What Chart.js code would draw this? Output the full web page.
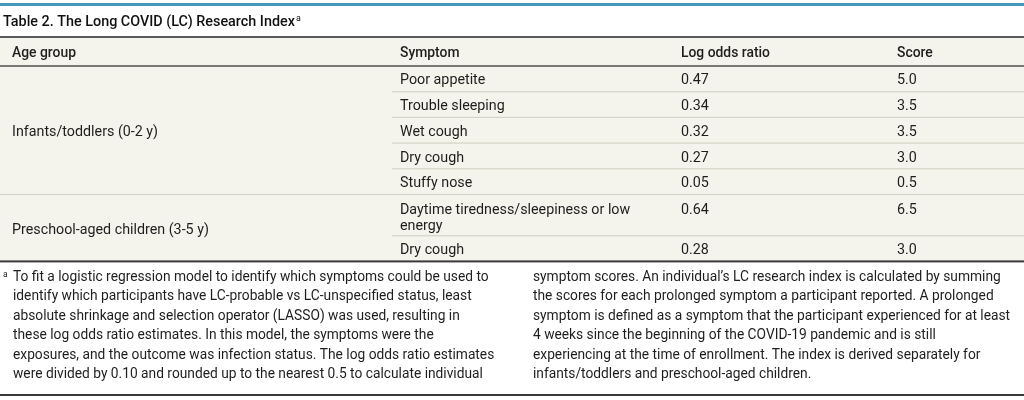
<!DOCTYPE html>
<html>
<head>
<meta charset="utf-8">
<title>Table 2. The Long COVID (LC) Research Index</title>
<script src="https://cdn.jsdelivr.net/npm/chart.js@4.4.1/dist/chart.umd.min.js"></script>
<style>
  html, body { margin: 0; padding: 0; background: #fff; }
  #wrap { width: 1024px; height: 400px; }
</style>
</head>
<body>
<div id="wrap"><canvas id="tbl" width="1024" height="400"></canvas></div>
<script>
// table content
const titleText = 'Table 2. The Long COVID (LC) Research Index';
const headers = ['Age group', 'Symptom', 'Log odds ratio', 'Score'];
const ageGroups = ['Infants/toddlers (0-2 y)', 'Preschool-aged children (3-5 y)'];
const rowGroup = [0, 0, 0, 0, 0, 1, 1];
const symptoms = [
    'Poor appetite',
    'Trouble sleeping',
    'Wet cough',
    'Dry cough',
    'Stuffy nose',
    'Daytime tiredness/sleepiness or low\nenergy',
    'Dry cough'
];
const logOdds = [0.47, 0.34, 0.32, 0.27, 0.05, 0.64, 0.28];
const scores = [5.0, 3.5, 3.5, 3.0, 0.5, 6.5, 3.0];
const noteLeft = [
    'To fit a logistic regression model to identify which symptoms could be used to',
    'identify which participants have LC-probable vs LC-unspecified status, least',
    'absolute shrinkage and selection operator (LASSO) was used, resulting in',
    'these log odds ratio estimates. In this model, the symptoms were the',
    'exposures, and the outcome was infection status. The log odds ratio estimates',
    'were divided by 0.10 and rounded up to the nearest 0.5 to calculate individual'
];
const noteRight = [
    'symptom scores. An individual\u2019s LC research index is calculated by summing',
    'the scores for each prolonged symptom a participant reported. A prolonged',
    'symptom is defined as a symptom that the participant experienced for at least',
    '4 weeks since the beginning of the COVID-19 pandemic and is still',
    'experiencing at the time of enrollment. The index is derived separately for',
    'infants/toddlers and preschool-aged children.'
];

// layout (in scale units, 1 unit = 1 px)
const FONT = 'Roboto, "Noto Sans", sans-serif';
const colX = [12, 400, 681, 897];
const ruleTitle = 37, ruleHead = 66;
const rowBase = 25.7, lineGap = 16.5, textDrop = 2;
const noteTop = 275.5, noteGap = 19.5, noteX = [13, 533];

// row tops from line counts
const rowTop = [];
let yy = ruleHead;
symptoms.forEach(function (s) {
    rowTop.push(yy);
    yy += rowBase + (s.split('\n').length - 1) * 15.5;
});
const tableBottom = yy;
const rowCenter = rowTop.map(function (t, i) {
    return symptoms[i].indexOf('\n') >= 0 ? t + 13.5 : t + rowBase / 2;
});

function groupSpan(g) {
    const idx = rowGroup.map(function (v, i) { return v === g ? i : -1; }).filter(function (i) { return i >= 0; });
    const top = rowTop[idx[0]];
    const last = idx[idx.length - 1];
    const bot = last + 1 < rowTop.length ? rowTop[last + 1] : tableBottom;
    return (top + bot) / 2;
}

// cells as points
const headCells = headers.map(function (h, c) { return { x: colX[c], y: (ruleTitle + ruleHead) / 2 + 0.5, text: h }; });
const bodyCells = [];
ageGroups.forEach(function (g, i) { bodyCells.push({ x: colX[0], y: groupSpan(i), text: g }); });
symptoms.forEach(function (s, r) {
    bodyCells.push({ x: colX[1], y: rowCenter[r], text: s });
    bodyCells.push({ x: colX[2], y: rowCenter[r], text: logOdds[r].toFixed(2) });
    bodyCells.push({ x: colX[3], y: rowCenter[r], text: scores[r].toFixed(1) });
});
const noteCells = [];
noteLeft.forEach(function (t, i) { noteCells.push({ x: noteX[0], y: noteTop + i * noteGap, text: t }); });
noteRight.forEach(function (t, i) { noteCells.push({ x: noteX[1], y: noteTop + i * noteGap, text: t }); });

function fitSize(ctx, text, weight, target) {
    ctx.font = weight + ' 20px ' + FONT;
    return 20 * target / ctx.measureText(text).width;
}

const tablePlugin = {
    id: 'tablePlugin',
    beforeDatasetsDraw: function (chart) {
        const ctx = chart.ctx, x = chart.scales.x, y = chart.scales.y;
        const X = function (v) { return x.getPixelForValue(v); };
        const Y = function (v) { return y.getPixelForValue(v); };
        const L = X(0), R = X(1024);
        ctx.save();
        ctx.fillStyle = '#f4f3ec';
        ctx.fillRect(L, Y(ruleTitle), R - L, Y(tableBottom) - Y(ruleTitle));
        ctx.fillStyle = '#4599bf';
        ctx.fillRect(L, Y(3), R - L, Y(6) - Y(3));

        function hline(v, x0, w, col) {
            ctx.fillStyle = col;
            ctx.fillRect(X(x0), Y(v) - w / 2, R - X(x0), w);
        }
        hline(ruleTitle, 0, 1.6, '#333333');
        hline(ruleHead, 0, 1.4, '#444444');
        for (let r = 1; r < rowTop.length; r++) {
            const full = rowGroup[r] !== rowGroup[r - 1];
            hline(rowTop[r], full ? 0 : 392, 1.2, '#d6d4c6');
        }
        hline(tableBottom, 0, 2, '#3a3a3a');
        hline(395, 0, 2, '#3a3a3a');
        ctx.restore();
    },
    afterDatasetsDraw: function (chart) {
        const ctx = chart.ctx;
        ctx.save();
        const sizes = {
            title: fitSize(ctx, titleText, '500', 292),
            head: fitSize(ctx, 'Log odds ratio', '500', 89),
            body: fitSize(ctx, ageGroups[1], 'normal', 197),
            note: fitSize(ctx, noteLeft[0], 'normal', 476)
        };
        ctx.textAlign = 'left';
        ctx.textBaseline = 'middle';
        chart.data.datasets.forEach(function (ds, d) {
            const meta = chart.getDatasetMeta(d);
            const weight = ds.role === 'title' || ds.role === 'head' ? '500' : 'normal';
            ctx.font = weight + ' ' + sizes[ds.role] + 'px ' + FONT;
            ctx.fillStyle = ds.role === 'title' ? '#111111' : '#1e1e1e';
            meta.data.forEach(function (el, i) {
                const lines = ds.data[i].text.split('\n');
                const ty = el.y + textDrop;
                lines.forEach(function (ln, k) { ctx.fillText(ln, el.x, ty + k * lineGap); });
                if (ds.role === 'title') {
                    const w = ctx.measureText(lines[0]).width;
                    ctx.font = 'normal ' + (sizes.title * 0.62) + 'px ' + FONT;
                    ctx.fillText('a', el.x + w + 1, ty - 4);
                    ctx.font = weight + ' ' + sizes[ds.role] + 'px ' + FONT;
                }
                if (ds.role === 'note' && i === 0) {
                    ctx.font = 'normal ' + (sizes.note * 0.62) + 'px ' + FONT;
                    ctx.fillText('a', el.x - 10, ty - 3);
                    ctx.font = weight + ' ' + sizes[ds.role] + 'px ' + FONT;
                }
            });
        });
        ctx.restore();
    }
};

new Chart(document.getElementById('tbl'), {
    type: 'scatter',
    data: {
        datasets: [
            { label: 'title', role: 'title', data: [{ x: 3, y: 20.5, text: titleText }] },
            { label: 'header', role: 'head', data: headCells },
            { label: 'cells', role: 'body', data: bodyCells },
            { label: 'footnote', role: 'note', data: noteCells }
        ]
    },
    options: {
        responsive: false,
        animation: false,
        events: [],
        layout: { padding: 0 },
        elements: { point: { radius: 0, hoverRadius: 0 } },
        plugins: { legend: { display: false }, tooltip: { enabled: false } },
        scales: {
            x: { type: 'linear', display: false, min: 0, max: 1024 },
            y: { type: 'linear', display: false, min: 0, max: 400, reverse: true }
        }
    },
    plugins: [tablePlugin]
});
</script>
</body>
</html>
